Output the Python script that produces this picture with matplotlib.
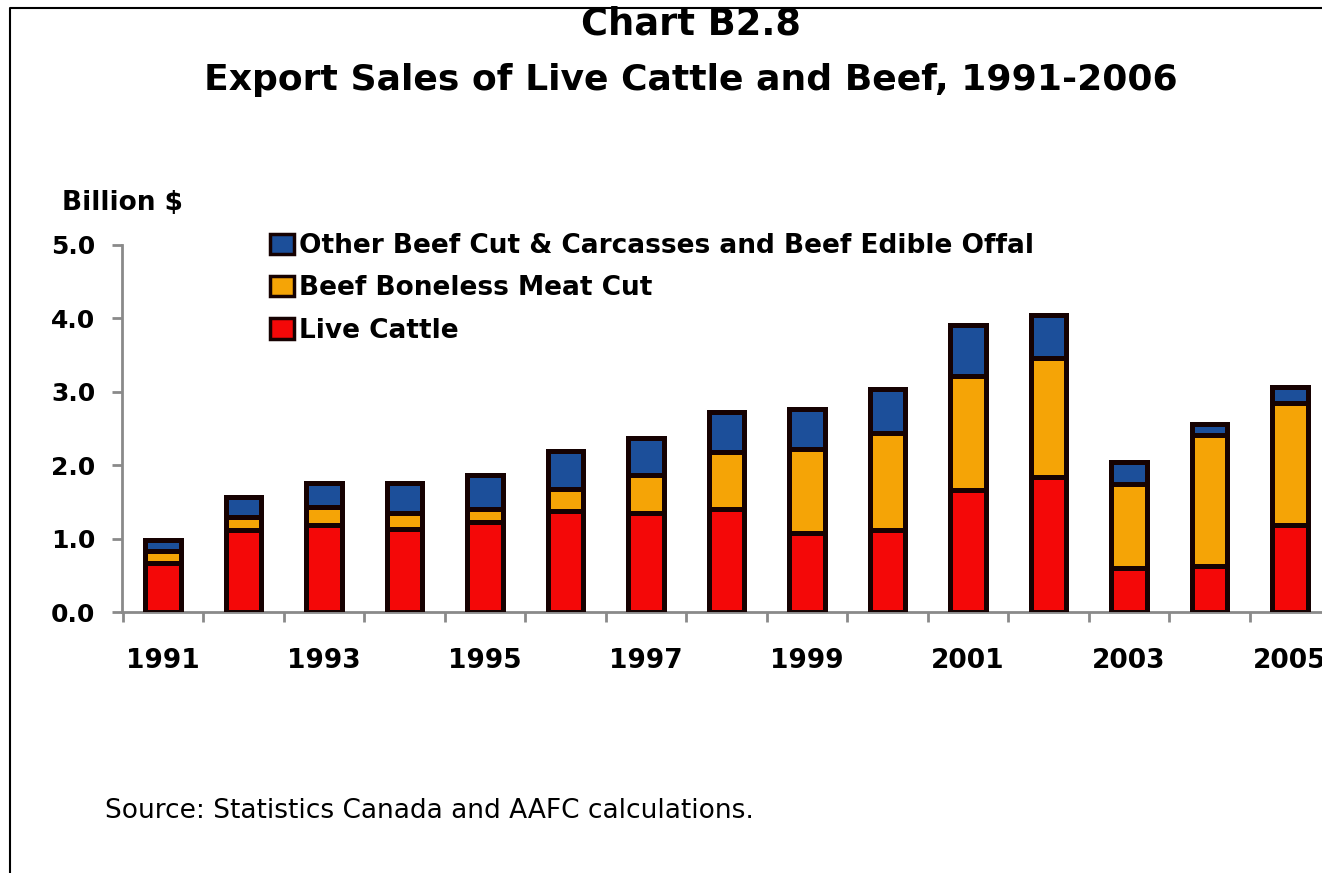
import matplotlib
matplotlib.use("Agg")
import matplotlib.pyplot as plt
from matplotlib.patches import Patch
from matplotlib.lines import Line2D
import numpy as np

years = [1991, 1992, 1993, 1994, 1995, 1996, 1997, 1998, 1999, 2000,
         2001, 2002, 2003, 2004, 2005]
live_cattle = [0.67, 1.12, 1.19, 1.13, 1.23, 1.38, 1.35, 1.41, 1.07, 1.12,
               1.66, 1.84, 0.60, 0.62, 1.18]
boneless = [0.16, 0.17, 0.24, 0.22, 0.17, 0.30, 0.51, 0.77, 1.15, 1.32,
            1.56, 1.62, 1.15, 1.79, 1.67]
other_beef = [0.15, 0.28, 0.33, 0.41, 0.47, 0.51, 0.51, 0.54, 0.54, 0.60,
              0.69, 0.59, 0.29, 0.15, 0.21]
tick_years = [1991, 1993, 1995, 1997, 1999, 2001, 2003, 2005]
y_ticks = [0.0, 1.0, 2.0, 3.0, 4.0, 5.0]

series_names = ["Live Cattle", "Beef Boneless Meat Cut",
                "Other Beef Cut & Carcasses and Beef Edible Offal"]
colors = ["#f40808", "#f5a406", "#1c4f9a"]
edge = "#160202"

W, H = 1322, 873
fig = plt.figure(figsize=(W / 100, H / 100), dpi=100)
fig.patch.set_facecolor("white")

ax_left, ax_right, ax_bottom, ax_top = 122, 1322, 612, 245
ax = fig.add_axes([ax_left / W, 1 - ax_bottom / H, (ax_right - ax_left) / W,
                   (ax_bottom - ax_top) / H])

x = np.array(years, dtype=float)
bw = 0.44
bottom = np.zeros(len(years))
for vals, c, name in zip([live_cattle, boneless, other_beef], colors, series_names):
    ax.bar(x, vals, width=bw, bottom=bottom, color=c, edgecolor=edge,
           linewidth=3.6, label=name, zorder=3)
    bottom += np.array(vals)

for s in ["top", "right"]:
    ax.spines[s].set_visible(False)
for s in ["left", "bottom"]:
    ax.spines[s].set_color("#8a8a8a")
    ax.spines[s].set_linewidth(2.0)

ax.set_yticks(y_ticks)
ax.set_yticklabels([f"{v:.1f}" for v in y_ticks], fontsize=18, fontweight="bold")
ax.tick_params(axis="y", length=7, width=2, color="#8a8a8a", pad=12)

bounds = [y - 0.5 for y in years]
ax.set_xticks(bounds)
ax.set_xticklabels([])
ax.tick_params(axis="x", which="major", length=7, width=2, color="#8a8a8a",
               direction="out")
ax.set_xticks(tick_years, minor=True)
ax.set_xticklabels([str(t) for t in tick_years], minor=True, fontsize=19,
                   fontweight="bold")
ax.tick_params(axis="x", which="minor", length=0, pad=26)

spacing = 80.5
x0 = 1991 - (163 - ax_left) / spacing
x1 = 1991 + (ax_right - 163) / spacing
ax.set_xlim(x0, x1)
ax.set_ylim(0, 5.0)

handles = [Patch(facecolor=c, edgecolor=edge, linewidth=2.5) for c in colors]
leg = fig.legend(handles[::-1], series_names[::-1], loc="upper left",
                 bbox_to_anchor=(270 / W, 1 - 233 / H), frameon=False,
                 prop={"size": 19, "weight": "bold"}, handlelength=0.9,
                 handleheight=0.8, handletextpad=0.2, labelspacing=0.62,
                 borderpad=0, borderaxespad=0)

fig.text(691 / W, 1 - 24 / H, "Chart B2.8", ha="center", va="center",
         fontsize=26.5, fontweight="bold")
fig.text(691 / W, 1 - 80 / H, "Export Sales of Live Cattle and Beef, 1991-2006",
         ha="center", va="center", fontsize=26, fontweight="bold")
fig.text(62 / W, 1 - 210 / H, "Billion $", ha="left", va="baseline",
         fontsize=19, fontweight="bold")
fig.text(105 / W, 1 - 818 / H, "Source: Statistics Canada and AAFC calculations.",
         ha="left", va="baseline", fontsize=19)

# frame border (top and left)
fig.add_artist(Line2D([10 / W, 10 / W, 1.0], [0.0, 1 - 8 / H, 1 - 8 / H],
                      transform=fig.transFigure, color="black", linewidth=1.5))

fig.savefig("out.png", dpi=100)
